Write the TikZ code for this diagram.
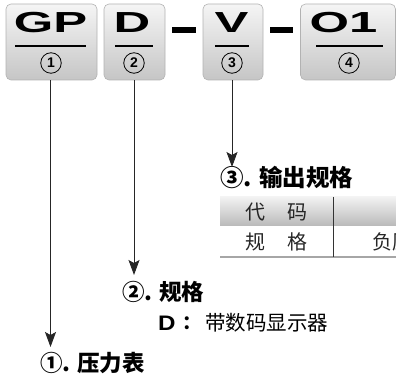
\documentclass[tikz,border=0pt]{standalone}
\usepackage{fontspec}
\setmainfont{Liberation Sans}
\newfontfamily\widefont{Liberation Sans}[FakeStretch=1.75]
\newfontfamily\semiwide{Liberation Sans}[FakeStretch=1.15]
\newfontfamily\cjk{Noto Sans CJK SC}
\usetikzlibrary{arrows.meta}
\tikzset{
  codebox/.style={rounded corners=5pt, draw=gray!60, line width=0.6pt, top color=gray!8, bottom color=gray!45},
  codetxt/.style={font=\widefont\bfseries\fontsize{29}{29}\selectfont, text=black},
  circnum/.style={circle, draw=black, line width=0.8pt, inner sep=0pt, minimum size=20.5pt, font=\bfseries\fontsize{14}{14}\selectfont},
  sepline/.style={line width=1.1pt, black},
  dashbar/.style={line width=5.5pt, black},
  pointer/.style={draw=black!85, line width=0.9pt, -{Stealth[length=15pt,width=11pt,inset=3pt]}},
  heading/.style={anchor=west, inner sep=0pt, font=\cjk\bfseries\fontsize{22.5}{22.5}\selectfont},
  celltxt/.style={inner sep=0pt, text=black!85, font=\cjk\fontsize{20}{20}\selectfont},
}
\begin{document}
\begin{tikzpicture}[x=1pt,y=-1pt]
\useasboundingbox (0,0) rectangle (396,379);
\clip (0,0) rectangle (396,379);
% boxes
\node[codebox, minimum width=91pt, minimum height=76pt] (b1) at (51.5,42) {};
\node[codebox, minimum width=61pt, minimum height=76pt] (b2) at (134.5,42) {};
\node[codebox, minimum width=60pt, minimum height=76pt] (b3) at (233,42) {};
\node[codebox, minimum width=95pt, minimum height=76pt] (b4) at (348,42) {};
% codes
\node[codetxt] (t1) at (50.5,23) {GP};
\node[codetxt] (t2) at (132,23) {D};
\node[codetxt] (t3) at (231.5,23) {V};
\node[codetxt] (t4) at (343.5,23) {O1};
\draw[sepline] (15,46) -- (86,46);
\draw[sepline] (115,46) -- (153,46);
\draw[sepline] (215,46) -- (249,46);
\draw[sepline] (316,46) -- (383,46);
\node[circnum] (c1) at (51,63) {1};
\node[circnum] (c2) at (134,63) {2};
\node[circnum] (c3) at (232,63) {3};
\node[circnum] (c4) at (349,63) {4};
% dashes
\draw[dashbar] (172,30) -- (196,30);
\draw[dashbar] (270,30) -- (293,30);
% headings
\node[heading, font=\cjk\bfseries\fontsize{23.5}{23.5}\selectfont] (l3) at (220,177) {③. 输出规格};
\node[heading] (l2) at (122,292) {②. 规格};
\node[heading] (l1) at (40,363) {①. 压力表};
\node[anchor=west, inner sep=0pt, font=\semiwide\bfseries\fontsize{21}{21}\selectfont] (dd) at (158,323) {D};
\node[inner sep=0pt, font=\cjk\bfseries\fontsize{19}{19}\selectfont] (dc) at (192,323) {：};
\node[anchor=west, inner sep=0pt, font=\cjk\fontsize{20.5}{20.5}\selectfont] (dt) at (205,323) {带数码显示器};
% connectors
\coordinate (e1) at (50.5,347);
\coordinate (e2) at (134,275);
\coordinate (e3) at (232,167);
\draw[pointer] (b1.south -| e1) -- (e1);
\draw[pointer] (b2.south -| e2) -- (e2);
\draw[pointer] (b3.south -| e3) -- (e3);
% table
\shade[top color=gray!10, bottom color=gray!55] (220,197) rectangle (396,226);
\draw[gray!70, line width=1.2pt] (220,257) -- (396,257);
\draw[black!80, line width=0.6pt] (333,197) -- (333,257);
\node[celltxt] (h1) at (276.5,212.5) {代\hspace{22pt}码};
\node[celltxt] (r1) at (276.5,242) {规\hspace{22pt}格};
\node[celltxt, anchor=west] (r2) at (372,242) {负压};
\end{tikzpicture}
\end{document}
